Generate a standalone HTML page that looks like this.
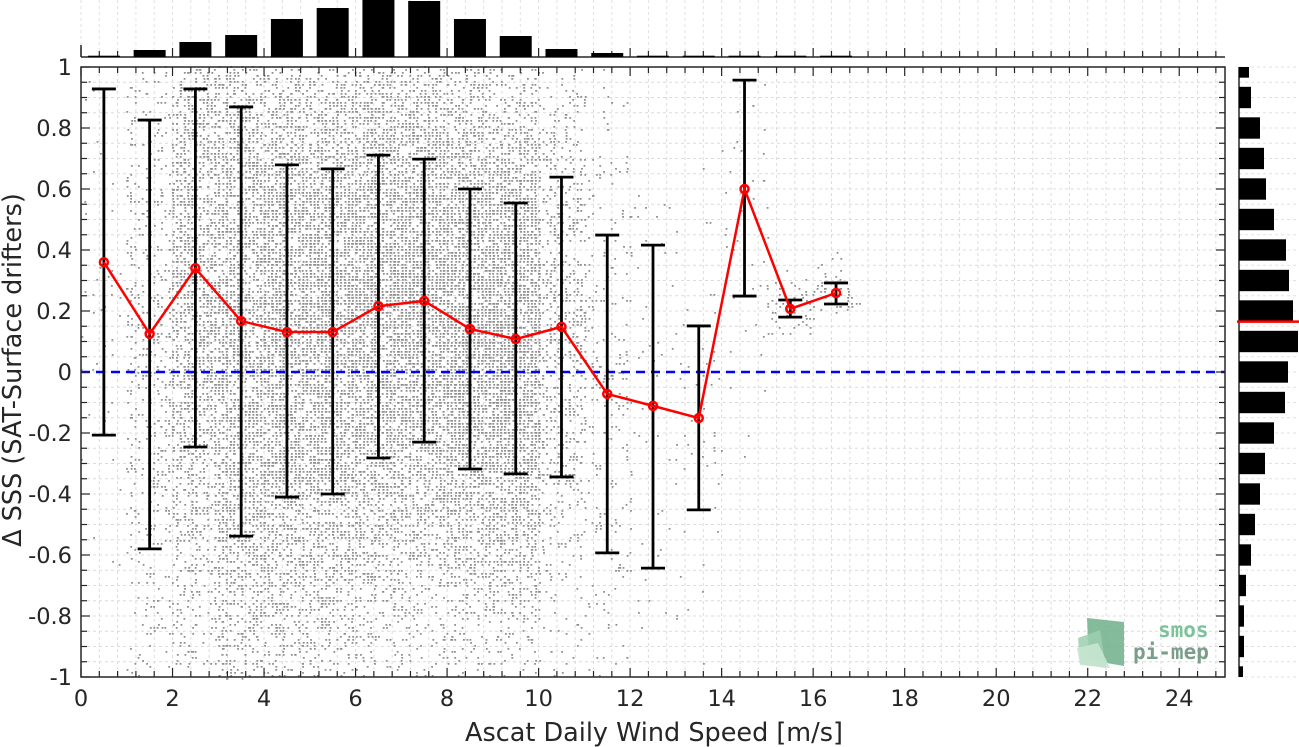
<!DOCTYPE html>
<html><head><meta charset="utf-8">
<style>
html,body{margin:0;padding:0;background:#fff;}
svg{display:block;font-family:"DejaVu Sans","Liberation Sans",sans-serif;}
</style></head>
<body>
<svg id="chart" width="1299" height="747" viewBox="0 0 1299 747" xmlns="http://www.w3.org/2000/svg">
<g id="grid"></g>
<g id="scatter"></g>
<line id="zero" stroke="#0000ff" stroke-width="2.5" stroke-dasharray="9,6"></line>
<g id="errs"></g>
<g id="meanline"></g>
<g id="axes"></g>
<g id="tophist"></g>
<g id="righthist"></g>
<g>
  <polygon points="1087,618 1124,622 1124,666 1089,660" fill="#6fb08a" opacity="0.85"/>
  <polygon points="1078,638 1100,630 1106,668 1080,664" fill="#9ccfb0" opacity="0.85"/>
  <polygon points="1077,648 1098,643 1110,668 1080,665" fill="#c6e6d2" opacity="0.9"/>
  <text x="1158" y="637" font-size="21" font-weight="bold" fill="#7cc39a" font-family="'DejaVu Sans Mono',monospace">smos</text>
  <text x="1133" y="659" font-size="21" font-weight="bold" fill="#7a9e8a" font-family="'DejaVu Sans Mono',monospace">pi-mep</text>
</g>
<text x="654" y="741" text-anchor="middle" font-size="25.5" fill="#262626">Ascat Daily Wind Speed [m/s]</text>
<text transform="translate(21,370) rotate(-90)" text-anchor="middle" font-size="25.5" fill="#262626">Δ SSS (SAT-Surface drifters)</text>
</svg>
<script>
// ---- data ----
const binCenters = [0.5,1.5,2.5,3.5,4.5,5.5,6.5,7.5,8.5,9.5,10.5,11.5,12.5,13.5,14.5,15.5,16.5];
const binMeans   = [0.36,0.125,0.34,0.167,0.131,0.131,0.216,0.233,0.141,0.108,0.148,-0.072,-0.111,-0.151,0.60,0.207,0.259];
const errUpper   = [0.928,0.826,0.928,0.869,0.679,0.666,0.711,0.698,0.60,0.554,0.639,0.449,0.416,0.151,0.957,0.236,0.292];
const errLower   = [-0.207,-0.58,-0.246,-0.538,-0.41,-0.40,-0.282,-0.23,-0.318,-0.334,-0.344,-0.593,-0.643,-0.452,0.249,0.18,0.223];
const topHistCenters = [0.5,1.5,2.5,3.5,4.5,5.5,6.5,7.5,8.5,9.5,10.5,11.5,12.5,13.5,14.5,15.5,16.5];
const topHistCounts  = [1.3,7,15,22,38,49,58,56,38,21,8,4,1.3,1.3,1.3,1.3,1.3];
const rightHistCenters = [1.0,0.9,0.8,0.7,0.6,0.5,0.4,0.3,0.2,0.1,0.0,-0.1,-0.2,-0.3,-0.4,-0.5,-0.6,-0.7,-0.8,-0.9,-1.0];
const rightHistCounts  = [10,12,21,25,27,35,47,50,54,59,49,46,35,26,21,16,12,7,5,5,4];
const overallMean = 0.165;
const xTicks = [0,2,4,6,8,10,12,14,16,18,20,22,24];
const yTicks = [-1,-0.8,-0.6,-0.4,-0.2,0,0.2,0.4,0.6,0.8,1];
const yTickLabels = ["-1","-0.8","-0.6","-0.4","-0.2","0","0.2","0.4","0.6","0.8","1"];

// ---- scales ----
const X0=81, X1=1225, Y0=67, Y1=677;
const xs = v => X0 + (v-0)/25*(X1-X0);
const ys = v => Y1 - (v+1)/2*(Y1-Y0);
const NS="http://www.w3.org/2000/svg";
function mk(tag, attrs, parent){const e=document.createElementNS(NS,tag);for(const k in attrs)e.setAttribute(k,attrs[k]);parent.appendChild(e);return e;}

// grid
const grid=document.getElementById('grid');
for(let v=0; v<=25.001; v+=0.4){
  const l=mk('line',{x1:xs(v),x2:xs(v),y1:Y0,y2:Y1,stroke:'#dcdcdc','stroke-width':1,'stroke-dasharray':'3,3'},grid);
  
  
  const t=mk('line',{x1:xs(v),x2:xs(v),y1:0,y2:57,stroke:'#e2e2e2','stroke-width':1,'stroke-dasharray':'3,3'},grid);
  
  
}
for(let v=-1; v<=1.001; v+=0.05){
  const l=mk('line',{x1:X0,x2:X1,y1:ys(v),y2:ys(v),stroke:'#dcdcdc','stroke-width':1,'stroke-dasharray':'3,3'},grid);
  
  
  const r=mk('line',{x1:1239,x2:1299,y1:ys(v),y2:ys(v),stroke:'#e2e2e2','stroke-width':1,'stroke-dasharray':'3,3'},grid);
  
  
}

// scatter (seeded texture derived from bin stats)
let seed=12345;
function rnd(){seed=(seed*1103515245+12345)%2147483648;return seed/2147483648;}
function gauss(){let u=rnd()||1e-6,v=rnd();return Math.sqrt(-2*Math.log(u))*Math.cos(2*Math.PI*v);}
const sc=document.getElementById('scatter');
let pts='';
binCenters.forEach((c,i)=>{
  const n=Math.round(Math.pow(topHistCounts[i],1.5)*35);
  const sd=Math.max((errUpper[i]-errLower[i])/2,0.05)*1.1;
  for(let k=0;k<n;k++){
    const x=Math.round((c-0.5+rnd())*12)/12;
    const y=binMeans[i]+gauss()*sd;
    if(y<-1||y>1)continue;
    const yp=Math.round(ys(y)/3)*3;
    pts+=`M${(xs(x)+ (rnd()-0.5)*1.5).toFixed(1)},${yp}h1.8v1.8h-1.8z`;
  }
});
const sp=mk('path',{d:pts,fill:'#8e8e8e'},sc);



// zero line
const z=document.getElementById('zero');
z.setAttribute('x1',X0);z.setAttribute('x2',X1);z.setAttribute('y1',ys(0));z.setAttribute('y2',ys(0));

// error bars
const eg=document.getElementById('errs');
binCenters.forEach((c,i)=>{
  const x=xs(c);
  const g=mk('g',{stroke:'#000','stroke-width':2.8},eg);
  
  
  mk('line',{x1:x,x2:x,y1:ys(errUpper[i]),y2:ys(errLower[i])},g);
  mk('line',{x1:x-12,x2:x+12,y1:ys(errUpper[i]),y2:ys(errUpper[i])},g);
  mk('line',{x1:x-12,x2:x+12,y1:ys(errLower[i]),y2:ys(errLower[i])},g);
});

// mean line
const mg=document.getElementById('meanline');
const pl=mk('polyline',{points:binCenters.map((c,i)=>xs(c)+','+ys(binMeans[i])).join(' '),fill:'none',stroke:'#ff0000','stroke-width':2.5},mg);


binCenters.forEach((c,i)=>{
  const m=mk('circle',{cx:xs(c),cy:ys(binMeans[i]),r:4,fill:'none',stroke:'#ff0000','stroke-width':2.5},mg);
  
  
});

// axes
const ax=document.getElementById('axes');
const box=mk('rect',{x:X0,y:Y0,width:X1-X0,height:Y1-Y0,fill:'none',stroke:'#262626','stroke-width':1.5},ax);


for(let v=0; v<=25.001; v+=0.4){
  const major=Math.abs(v/2-Math.round(v/2))<0.01;
  const L=major?9:6;
  mk('line',{x1:xs(v),x2:xs(v),y1:Y1,y2:Y1-L,stroke:'#262626','stroke-width':1.2},ax);
  mk('line',{x1:xs(v),x2:xs(v),y1:Y0,y2:Y0+L,stroke:'#262626','stroke-width':1.2},ax);
  mk('line',{x1:xs(v),x2:xs(v),y1:57,y2:57-L,stroke:'#262626','stroke-width':1.2},ax);
}
for(let v=-1; v<=1.001; v+=0.05){
  const major=Math.abs(v/0.2-Math.round(v/0.2))<0.01;
  const L=major?9:6;
  mk('line',{x1:X0,x2:X0+L,y1:ys(v),y2:ys(v),stroke:'#262626','stroke-width':1.2},ax);
  mk('line',{x1:X1,x2:X1-L,y1:ys(v),y2:ys(v),stroke:'#262626','stroke-width':1.2},ax);
}
mk('line',{x1:X0,x2:X1,y1:57,y2:57,stroke:'#262626','stroke-width':1.5},ax);
mk('line',{x1:X0,x2:X0,y1:45,y2:57,stroke:'#262626','stroke-width':1.5},ax);
mk('line',{x1:1239,x2:1239,y1:Y0,y2:Y1,stroke:'#262626','stroke-width':1.5},ax);
xTicks.forEach(v=>{
  const t=mk('text',{x:xs(v),y:706,'text-anchor':'middle','font-size':22.5,fill:'#262626'},ax);
  t.textContent=String(v);
  
  
});
yTicks.forEach((v,i)=>{
  const t=mk('text',{x:72,y:ys(v)+8,'text-anchor':'end','font-size':22.5,fill:'#262626'},ax);
  t.textContent=yTickLabels[i];
  
  
});

// top histogram
const th=document.getElementById('tophist');
topHistCenters.forEach((c,i)=>{
  const h=topHistCounts[i];
  const r=mk('rect',{x:xs(c)-16,y:57-h,width:32,height:h,fill:'#000'},th);
  
  
});

// right histogram
const rh=document.getElementById('righthist');
rightHistCenters.forEach((c,i)=>{
  let y1=ys(c+0.035), y2=ys(c-0.035);
  y1=Math.max(y1,Y0); y2=Math.min(y2,Y1);
  const r=mk('rect',{x:1239,y:y1,width:rightHistCounts[i],height:y2-y1,fill:'#000'},rh);
  
  
});
const ml=mk('line',{x1:1237,x2:1299,y1:ys(overallMean),y2:ys(overallMean),stroke:'#ff0000','stroke-width':2.5},rh);


</script>
</body></html>
